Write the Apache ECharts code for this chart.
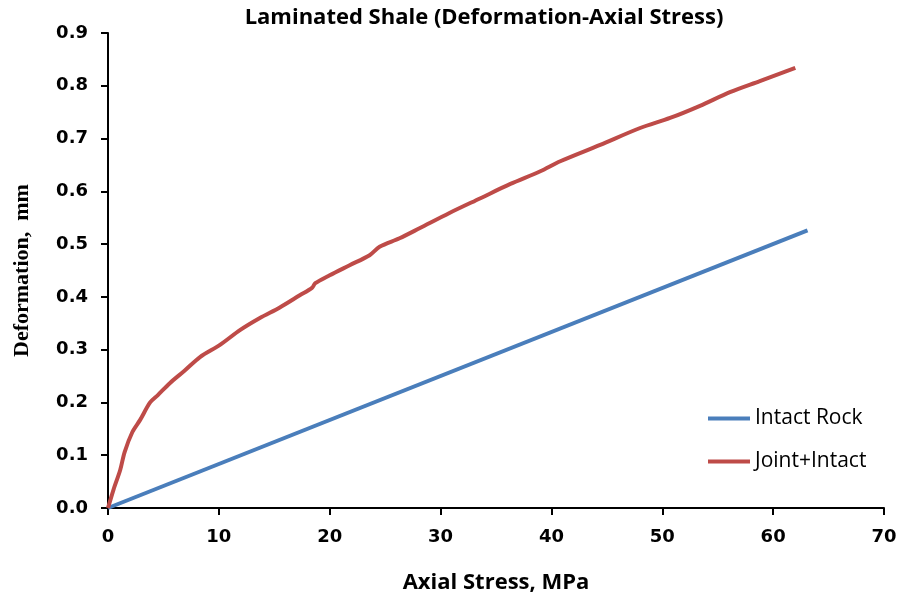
<!DOCTYPE html>
<html>
<head>
	<meta charset="utf-8">
	<script src="https://cdn.jsdelivr.net/npm/echarts@6/dist/echarts.min.js"></script>
	<title>Laminated Shale</title>
</head>
<body style="margin:0">
	<div id="main" style="width:914px;height:601px"></div>
	<script type="text/javascript">
		// values
		var jointStress = [0, 0.5, 1.1, 1.5, 2.2, 2.9, 3.8, 4.5, 5.6, 6.9, 8.3, 10.1, 11.9, 13.7, 15.5, 17.3, 18.4, 18.7, 20.0, 21.8, 23.6, 24.5, 26.3, 28.1, 30.8, 33.6, 36.3, 39.0, 40.8, 44.4, 48.0, 50.7, 53.4, 56.1, 58.8, 62.0]
		var jointDeform = [0, 0.035, 0.072, 0.106, 0.144, 0.167, 0.200, 0.214, 0.237, 0.260, 0.286, 0.309, 0.337, 0.360, 0.380, 0.403, 0.417, 0.426, 0.441, 0.460, 0.479, 0.495, 0.511, 0.530, 0.559, 0.587, 0.614, 0.638, 0.657, 0.688, 0.720, 0.739, 0.762, 0.788, 0.809, 0.834]
		var intactStress = [0, 63.1]
		var intactDeform = [0, 0.526]
		var seriesNames = ['Intact Rock', 'Joint+Intact']

		function pairs(xs, ys) {
			var out = []
			for (var i = 0; i < xs.length; i++) out.push([xs[i], ys[i]])
			return out
		}

		var myChart = echarts.init(document.getElementById('main'))
		var axisText = {color: '#000', fontWeight: 'bold', fontSize: 18, fontFamily: 'DejaVu Sans'}
		var option = {
			backgroundColor: '#fff',
			animation: false,
			title: {
				text: 'Laminated Shale (Deformation-Axial Stress)',
				left: 479, top: 2, textAlign: 'center',
				textStyle: {color: '#000', fontWeight: 'bold', fontSize: 22, fontFamily: 'Open Sans'}
			},
			legend: {
				orient: 'vertical',
				left: 703, top: 403,
				itemGap: 22, itemWidth: 42, itemHeight: 4,
				icon: 'rect',
				data: seriesNames,
				textStyle: {color: '#000', fontSize: 21, fontFamily: 'Open Sans'}
			},
			grid: {left: 108, right: 30, top: 33, bottom: 93},
			xAxis: {
				type: 'value', min: 0, max: 70, interval: 10,
				name: 'Axial Stress, MPa', nameLocation: 'middle', nameGap: 64,
				nameTextStyle: {color: '#000', fontWeight: 'bold', fontSize: 22, fontFamily: 'Open Sans'},
				axisLine: {lineStyle: {color: '#000', width: 2}},
				axisTick: {show: true, length: 7, lineStyle: {color: '#000', width: 2}},
				axisLabel: Object.assign({margin: 20}, axisText),
				splitLine: {show: false}
			},
			yAxis: {
				type: 'value', min: 0, max: 0.9, interval: 0.1,
				name: 'Deformation,  mm', nameLocation: 'middle', nameGap: 75,
				nameTextStyle: {color: '#000', fontWeight: 'bold', fontSize: 22, fontFamily: 'Liberation Serif'},
				axisLine: {show: true, lineStyle: {color: '#000', width: 2}},
				axisTick: {show: true, length: 7, lineStyle: {color: '#000', width: 2}},
				axisLabel: Object.assign({margin: 20, formatter: function (v) { return v.toFixed(1) }}, axisText),
				splitLine: {show: false}
			},
			series: [
				{
					name: seriesNames[0], type: 'line', showSymbol: false, symbol: 'none',
					lineStyle: {color: '#4a7ebb', width: 4}, itemStyle: {color: '#4a7ebb'},
					data: pairs(intactStress, intactDeform)
				},
				{
					name: seriesNames[1], type: 'line', showSymbol: false, symbol: 'none', smooth: 0.3,
					lineStyle: {color: '#be4b48', width: 4}, itemStyle: {color: '#be4b48'},
					data: pairs(jointStress, jointDeform)
				}
			]
		}
		myChart.setOption(option)
	</script>
</body>
</html>
